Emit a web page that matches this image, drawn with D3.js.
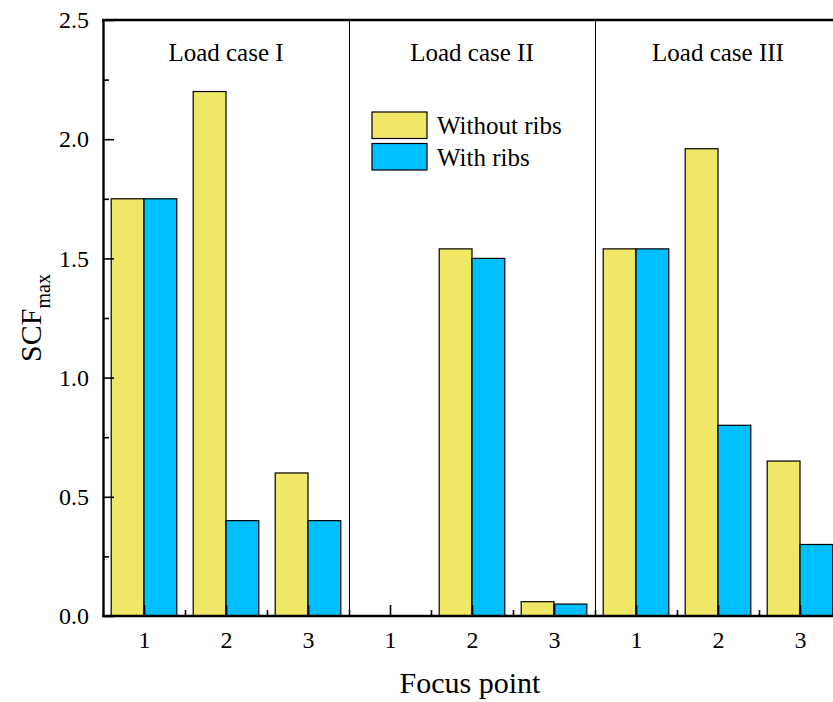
<!DOCTYPE html>
<html>
<head>
<meta charset="utf-8">
<script src="https://cdn.jsdelivr.net/npm/d3@7"></script>
<style>
  html, body { margin: 0; padding: 0; background: #fff; }
  svg { display: block; font-family: "Liberation Serif", "Times New Roman", serif; }
</style>
</head>
<body>
<svg id="chart" width="833" height="702"></svg>
<script>
// Load cases and the focus points checked in each
const loadCases = ["Load case I", "Load case II", "Load case III"];
const focusPoints = ["1", "2", "3"];
const seriesNames = ["Without ribs", "With ribs"];
const seriesColors = ["#EFE765", "#00BFFF"];

// Maximum stress concentration factor, one entry per focus point, load case by load case
const withoutRibs = [1.75, 2.20, 0.60, 0.00, 1.54, 0.06, 1.54, 1.96, 0.65];
const withRibs    = [1.75, 0.40, 0.40, 0.00, 1.50, 0.05, 1.54, 0.80, 0.30];

const yTicks = [0, 0.5, 1.0, 1.5, 2.0, 2.5];
const yMinorTicks = [0.25, 0.75, 1.25, 1.75, 2.25];

const svg = d3.select("#chart");
const plotLeft = 103, plotTop = 20, plotBottom = 616;
const step = 82;
const nCat = loadCases.length * focusPoints.length;
const plotRight = plotLeft + nCat * step;

// one slot per focus point across all load cases
const slots = d3.range(nCat);
const x = d3.scaleBand().domain(slots).range([plotLeft, plotRight]).padding(0);
const xs = d3.scaleBand().domain(seriesNames)
  .range([x.bandwidth() * 0.1, x.bandwidth() * 0.9]).padding(0);
const y = d3.scaleLinear().domain([0, 2.5]).range([plotBottom, plotTop]);

const rows = slots.map(i => ({
  i,
  label: focusPoints[i % focusPoints.length],
  values: [withoutRibs[i], withRibs[i]]
}));

// bars
const g = svg.append("g");
rows.forEach(r => {
  r.values.forEach((v, k) => {
    if (v <= 0) return;
    g.append("rect")
      .attr("x", x(r.i) + xs(seriesNames[k]))
      .attr("y", y(v))
      .attr("width", xs.bandwidth())
      .attr("height", y(0) - y(v))
      .attr("fill", seriesColors[k])
      .attr("stroke", "#000")
      .attr("stroke-width", 1.2);
  });
});

// separators between load cases
for (let c = 1; c < loadCases.length; c++) {
  const sx = Math.round(x(c * focusPoints.length)) + 0.5;
  svg.append("line")
    .attr("x1", sx).attr("x2", sx)
    .attr("y1", plotTop).attr("y2", plotBottom)
    .attr("stroke", "#000").attr("stroke-width", 1);
}

// load case titles above the middle focus point of each case
loadCases.forEach((name, c) => {
  const mid = c * focusPoints.length + 1;
  svg.append("text")
    .attr("x", x(mid) + x.bandwidth() / 2)
    .attr("y", 61)
    .attr("text-anchor", "middle")
    .attr("font-size", 25)
    .text(name);
});

// y axis: major ticks with labels, minor ticks, all pointing inward
const yAxis = d3.axisLeft(y).tickValues(yTicks)
  .tickFormat(d3.format(".1f")).tickSizeInner(-11).tickSizeOuter(0).tickPadding(14);
const yg = svg.append("g").attr("transform", `translate(${plotLeft},0)`).call(yAxis);
svg.append("g").attr("transform", `translate(${plotLeft},0)`)
  .call(d3.axisLeft(y).tickValues(yMinorTicks).tickFormat("").tickSizeInner(-6).tickSizeOuter(0))
  .call(s => s.select(".domain").remove());

// x axis: major ticks at focus points, minor ticks between them
const xCenter = d3.scalePoint().domain(slots)
  .range([x(0) + x.bandwidth() / 2, x(nCat - 1) + x.bandwidth() / 2]);
const xAxis = d3.axisBottom(xCenter)
  .tickFormat(i => rows[i].label).tickSizeInner(-11).tickSizeOuter(0).tickPadding(15);
const xg = svg.append("g").attr("transform", `translate(0,${plotBottom})`).call(xAxis);
xg.select(".domain").remove();
const xMinor = d3.scaleLinear().domain([0, nCat]).range([plotLeft, plotRight]);
svg.append("g").attr("transform", `translate(0,${plotBottom})`)
  .call(d3.axisBottom(xMinor).tickValues(d3.range(1, nCat)).tickFormat("").tickSizeInner(-6).tickSizeOuter(0))
  .call(s => s.select(".domain").remove());

[yg, xg].forEach(s => {
  s.selectAll("text").attr("font-size", 24).attr("fill", "#000")
    .attr("font-family", "Liberation Serif, Times New Roman, serif");
});
svg.selectAll(".tick line").attr("stroke", "#000").attr("stroke-width", 1.6);
yg.select(".domain").attr("stroke", "#000").attr("stroke-width", 2.4);

// frame: bottom and top spines
svg.append("line").attr("x1", plotLeft - 1).attr("x2", plotRight)
  .attr("y1", plotBottom).attr("y2", plotBottom).attr("stroke", "#000").attr("stroke-width", 2.4);
svg.append("line").attr("x1", plotLeft - 1).attr("x2", plotRight)
  .attr("y1", plotTop).attr("y2", plotTop).attr("stroke", "#000").attr("stroke-width", 2.4);

// legend
const legend = svg.append("g").attr("transform", "translate(372,112)");
seriesNames.forEach((name, k) => {
  legend.append("rect")
    .attr("x", 0).attr("y", k * 31.5)
    .attr("width", 55).attr("height", 26.5)
    .attr("fill", seriesColors[k]).attr("stroke", "#000").attr("stroke-width", 1.2);
  legend.append("text")
    .attr("x", 65).attr("y", k * 31.5 + 22)
    .attr("font-size", 25)
    .text(name);
});

// axis titles
svg.append("text")
  .attr("x", 470).attr("y", 693)
  .attr("text-anchor", "middle")
  .attr("font-size", 30)
  .text("Focus point");

const yt = svg.append("text")
  .attr("transform", "translate(41,318) rotate(-90)")
  .attr("text-anchor", "middle")
  .attr("font-size", 30);
yt.append("tspan").text("SCF");
yt.append("tspan").attr("font-size", 20).attr("dy", 9).text("max");
</script>
</body>
</html>
